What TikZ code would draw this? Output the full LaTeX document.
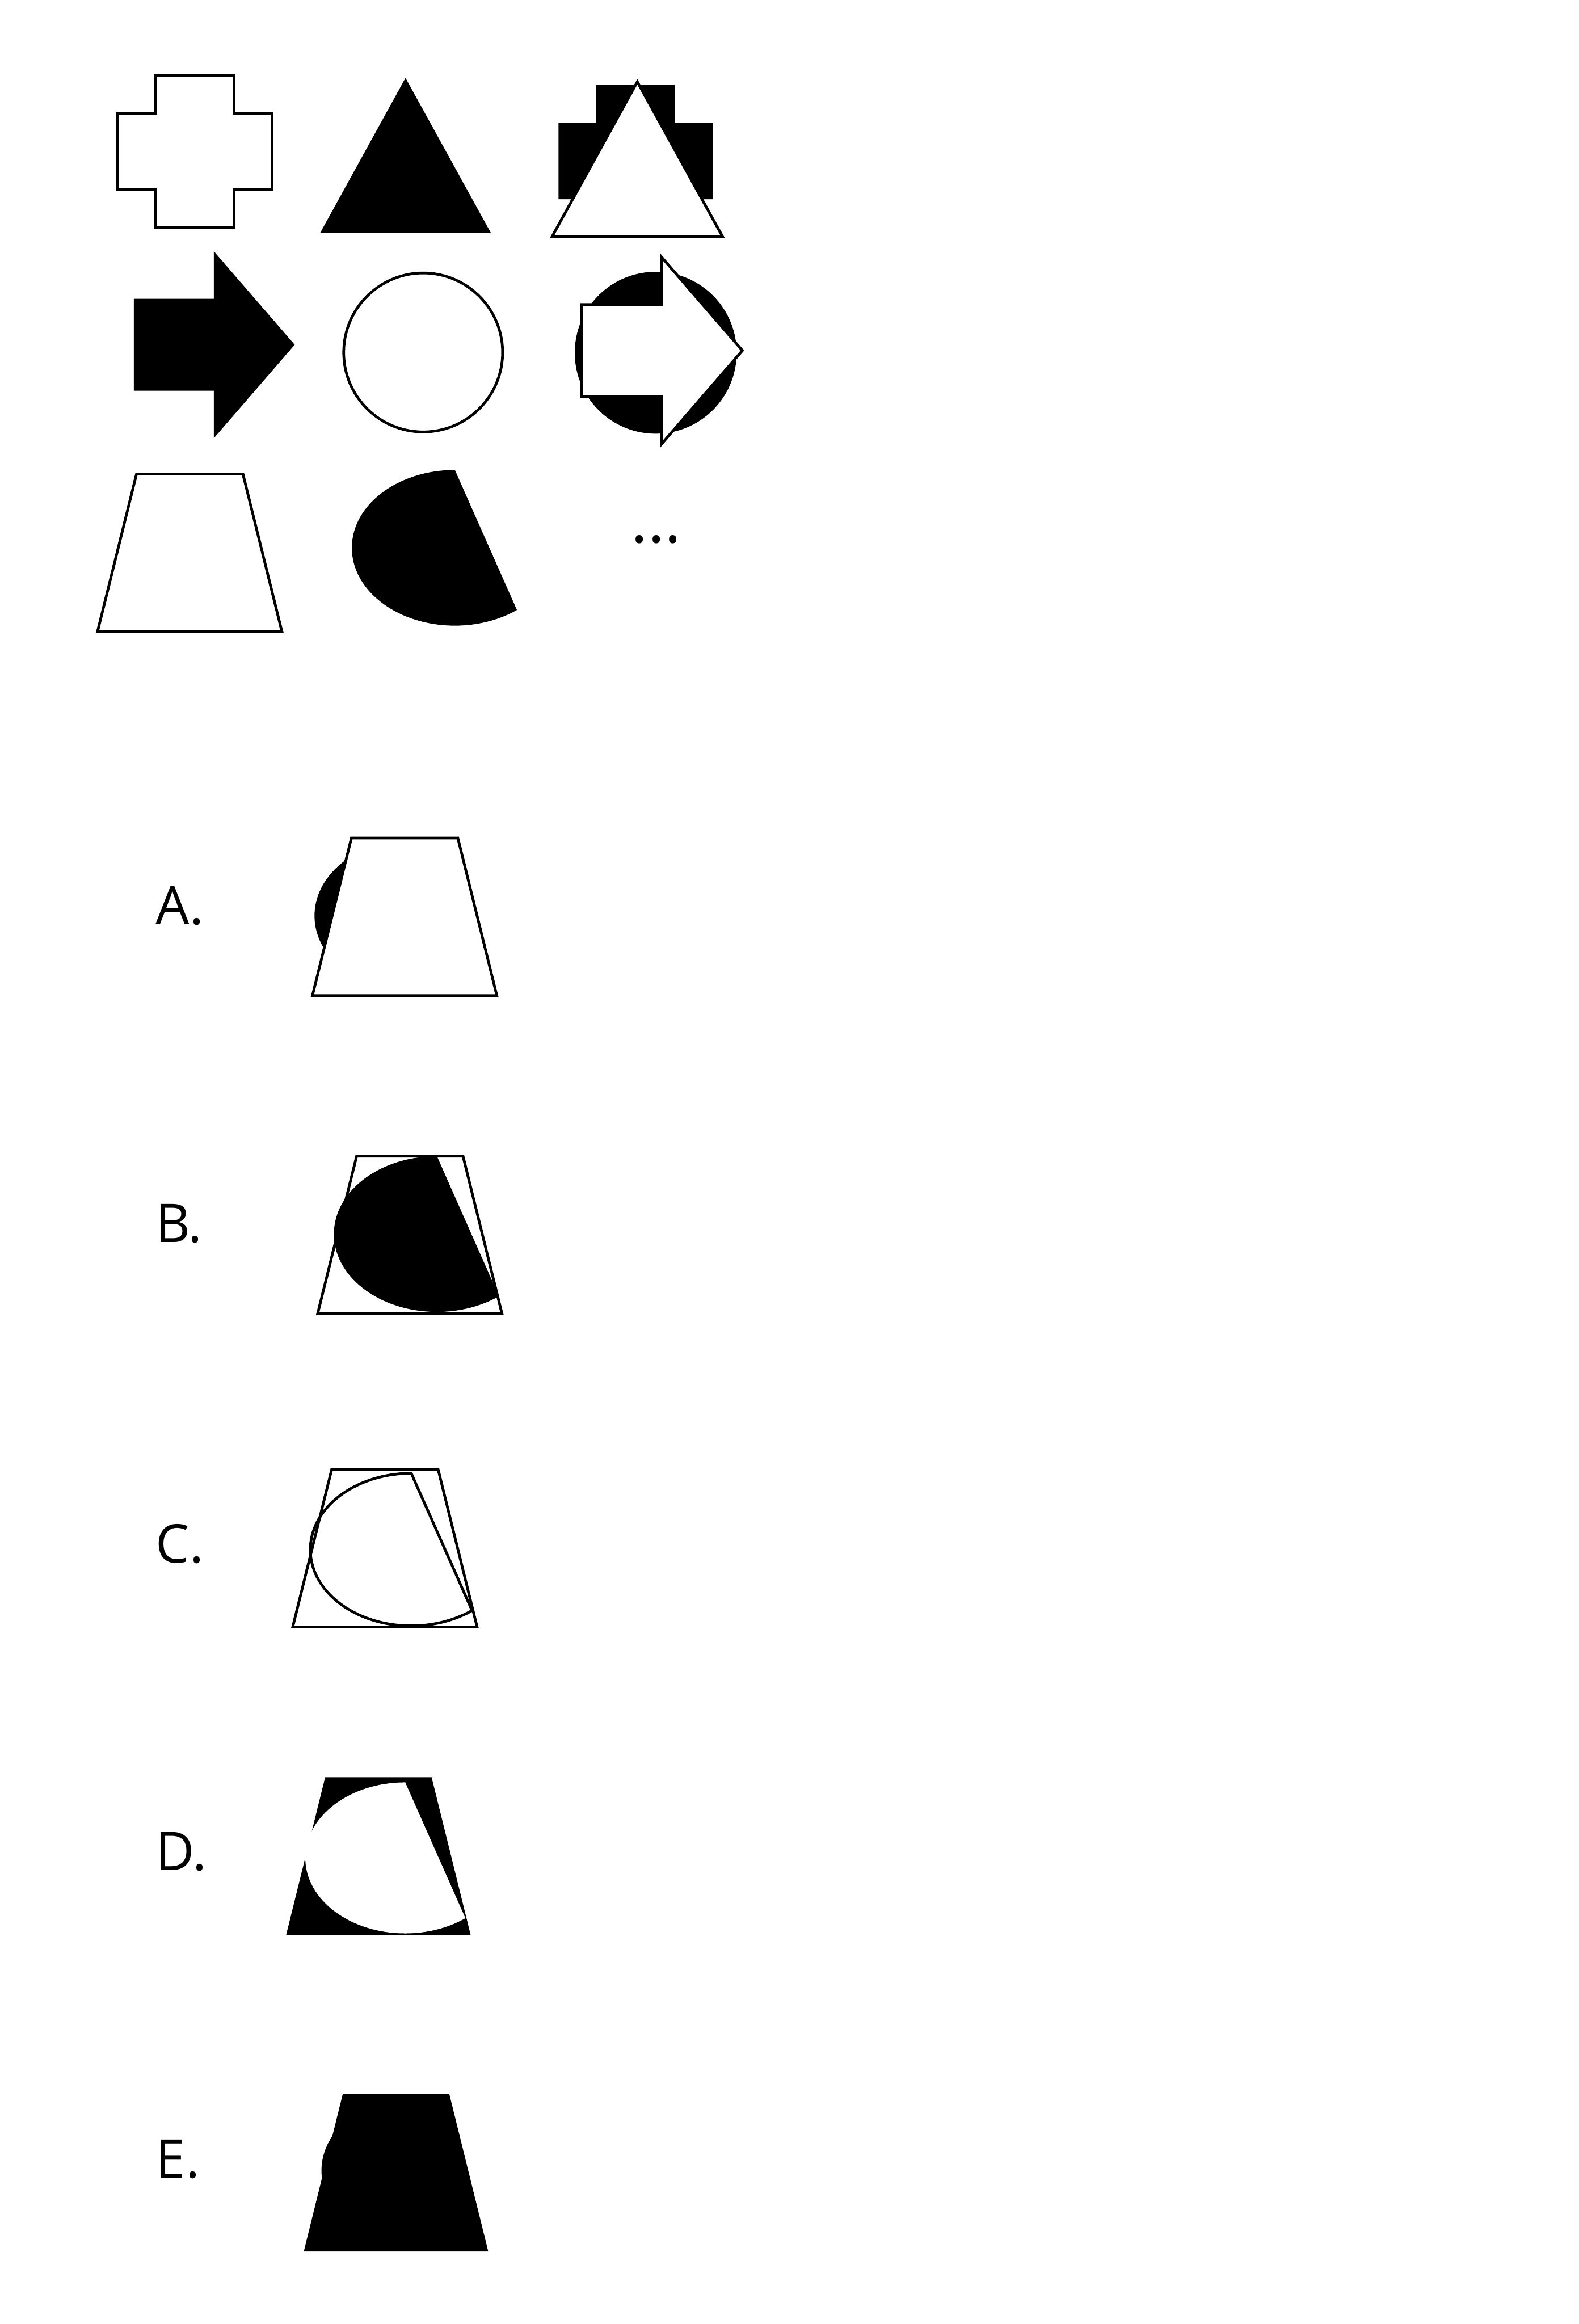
\documentclass[tikz,border=0pt]{standalone}
\usepackage{fontspec}
\setmainfont{Open Sans}
\usepackage{tikz}

% shape outlines, (x, y) measured from the top left of the page
\newcommand{\crosspath}[2]{(#1+25.5,-#2) -- ++(53,0) -- ++(0,-25.5) -- ++(25.5,0) -- ++(0,-51.6) -- ++(-25.5,0) -- ++(0,-25.6) -- ++(-53,0) -- ++(0,25.6) -- ++(-25.5,0) -- ++(0,51.6) -- ++(25.5,0) -- cycle}
\newcommand{\tripath}[2]{(#1,-#2) -- ++(57.6,-104.6) -- ++(-115.2,0) -- cycle}
\newcommand{\arrowpath}[2]{(#1+108.5,-#2) -- ++(-54.5,63) -- ++(0,-32) -- ++(-54,0) -- ++(0,-62) -- ++(54,0) -- ++(0,-32) -- cycle}
\newcommand{\trappath}[2]{(#1,-#2) -- ++(71.8,0) -- ++(26.3,-106.3) -- ++(-124.4,0) -- cycle}
% #1 = size factor
\newcommand{\eggpath}[3]{(#2,-#3+52.5*#1) arc[start angle=90, end angle=307, x radius=69.5*#1, y radius=52.5*#1] -- cycle}

\begin{document}
\begin{tikzpicture}[
        x=1pt, y=1pt,
        outline/.style={draw=black, line width=1.8pt, fill=white, line join=miter},
        ink/.style={fill=black},
        optlabel/.style={font=\fontsize{36}{40}\selectfont, anchor=base west, inner sep=0pt}
    ]
        \useasboundingbox (0,0) rectangle (1065,-1568);

        % Row 1
        \path[outline] \crosspath{79.5}{50.8};
        \path[ink] \tripath{273.6}{52.6};
        \path[ink] \crosspath{376.8}{57.3};
        \path[outline] \tripath{430}{55.2};

        % Row 2
        \path[ink] \arrowpath{90.3}{232.6};
        \draw[outline] (285.5,-237.8) circle[radius=53.6];
        \path[ink] (442.4,-238) circle[radius=54.6];
        \path[outline] \arrowpath{392.4}{236.5};

        % Row 3
        \path[outline] \trappath{92.1}{319.8};
        \path[ink] \eggpath{1}{306.9}{369.6};
        \node[font=\fontsize{42}{46}\selectfont, anchor=base, inner sep=0pt] (dots) at (442.8,-366) {...};

        % Options
        \node[optlabel] (labA) at (105,-623.7) {A.};
        \path[ink] \eggpath{1}{281.7}{617.9};
        \path[outline] \trappath{237.1}{565.4};

        \node[optlabel] (labB) at (105,-838.2) {B.};
        \path[outline] \trappath{240.6}{780.1};
        \path[ink] \eggpath{1}{294.8}{832.6};

        \node[optlabel] (labC) at (105,-1054.5) {C.};
        \path[outline] \trappath{223.8}{991.4};
        \path[outline, fill=none] \eggpath{0.98}{277.5}{1045.5};

        \node[optlabel] (labD) at (105,-1261.9) {D.};
        \path[ink] \trappath{219.4}{1199.1};
        \path[fill=white] \eggpath{0.97}{273.4}{1253.5};

        \node[optlabel] (labE) at (105,-1469.4) {E.};
        \path[ink] \trappath{231.3}{1412.7};
        \path[ink] \eggpath{0.98}{285}{1464.5};
\end{tikzpicture}
\end{document}
